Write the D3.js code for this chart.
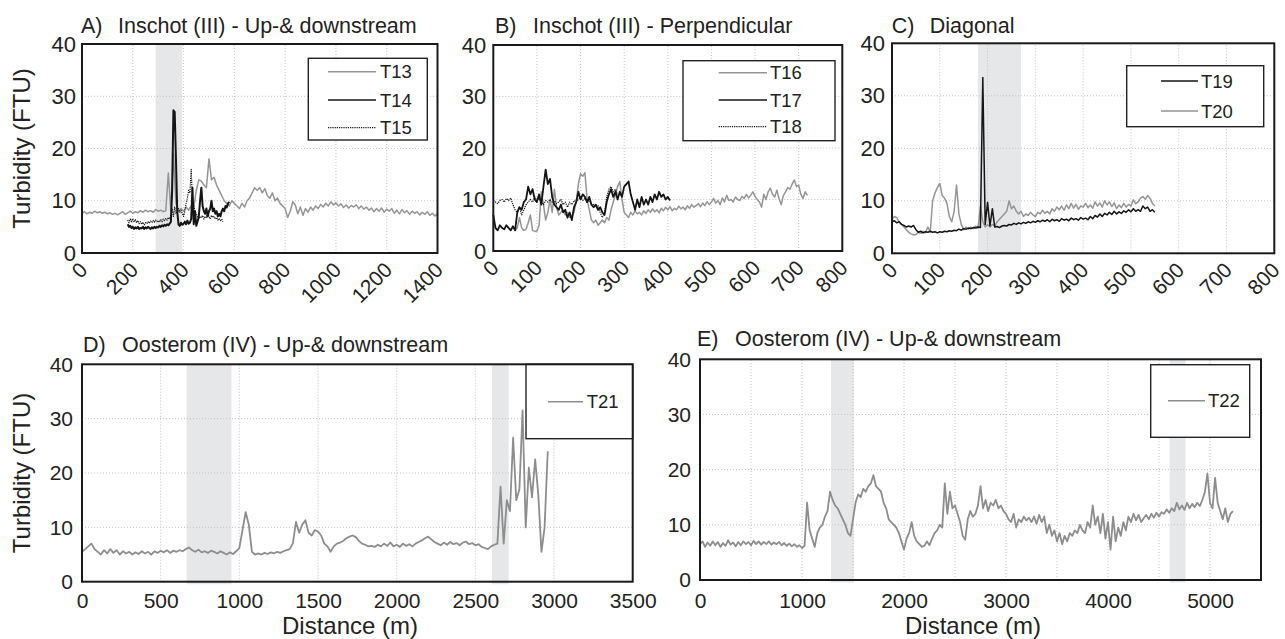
<!DOCTYPE html>
<html lang="en">
<head>
<meta charset="UTF-8" />
<title>Turbidity transects</title>
<script src="https://cdn.jsdelivr.net/npm/d3@7"></script>
<style>
  html, body { margin: 0; padding: 0; background: #fff; overflow: hidden; }
  svg { display: block; font-family: "Liberation Sans", Arial, Helvetica, sans-serif; }
</style>
</head>
<body>
<script>
// ---- data (distance in m, turbidity in FTU) ----
const yTicks = [0, 10, 20, 30, 40];

// A) Inschot (III) - Up-& downstream
const aTicks = [0, 200, 400, 600, 800, 1000, 1200, 1400];
const aShade = [[290, 395]];
const t13Start = 0, t13Step = 10;
const t13 = [
  7.6, 7.9, 7.5, 7.8, 7.6, 8.0, 7.7, 7.9, 7.6, 7.8, 7.5, 7.7, 7.4, 7.6, 7.3, 7.6, 7.9, 7.4, 7.7, 8.0,
  7.6, 7.9, 7.7, 8.1, 7.8, 8.2, 7.9, 8.1, 7.8, 8.3, 8.0, 8.2, 7.9, 8.1, 15.3, 8.0, 19.0, 9.5, 8.0, 8.5,
  8.0, 8.8, 8.2, 9.0, 8.5, 12.0, 14.0, 13.8, 13.0, 12.5, 18.0, 14.0, 14.5, 13.0, 12.0, 11.0, 10.0, 9.5, 9.0, 10.0,
  9.5, 9.0, 8.5, 9.5, 8.8, 10.0, 10.5, 11.5, 12.5, 12.0, 12.5, 11.5, 12.3, 11.0, 10.5, 11.5, 10.0, 10.5, 9.5, 9.0,
  8.5, 6.8, 8.0, 9.8, 9.2, 7.5, 8.8, 7.2, 8.5, 7.8, 8.8, 8.2, 9.0, 8.5, 9.3, 8.8, 9.5, 9.0, 9.8, 9.2,
  9.6, 9.0, 9.4, 8.7, 9.2, 8.6, 9.1, 8.8, 9.2, 8.5, 9.0, 8.4, 8.8, 8.2, 8.6, 7.9, 8.5, 8.0, 8.6, 7.8,
  8.4, 8.0, 8.5, 7.6, 8.2, 7.5, 8.3, 7.7, 8.1, 7.4, 8.0, 7.6, 7.9, 7.3, 7.8, 7.4, 7.9, 7.2, 7.6, 7.1, 7.5
];
const t14Start = 180, t14Step = 5;
const t14 = [
  5.5, 5.0, 5.2, 4.8, 5.0, 4.6, 4.9, 4.7, 5.0, 4.6, 4.8, 4.7, 5.0, 4.6, 4.9, 4.7, 5.0, 4.8, 4.6, 4.9,
  4.7, 5.0, 4.8, 5.0, 4.9, 5.2, 5.0, 5.3, 5.1, 5.4, 5.2, 5.5, 5.3, 5.6, 6.0, 12.0, 27.3, 27.0, 18.0, 8.0,
  5.5, 5.2, 5.8, 5.4, 5.6, 6.0, 5.5, 6.2, 5.6, 5.8, 6.5, 12.5, 5.5, 8.0, 5.2, 6.0, 7.0, 10.0, 12.5, 9.0,
  8.0, 7.5, 8.5, 7.0, 8.0, 8.5, 10.0, 8.0, 8.5, 7.5, 8.0, 7.0, 7.5, 7.0, 8.0, 8.5, 8.0, 9.0, 8.7, 9.5, 9.8
];
const t15Start = 180, t15Step = 5;
const t15 = [
  6.3, 5.8, 6.5, 6.0, 6.6, 5.9, 6.4, 5.8, 6.2, 5.6, 6.0, 5.5, 5.9, 5.4, 5.8, 5.6, 6.0, 5.7, 6.1, 5.8,
  6.2, 5.9, 6.3, 6.0, 6.2, 5.9, 6.4, 6.0, 6.5, 6.2, 6.6, 6.3, 6.8, 6.5, 7.0, 8.5, 7.0, 8.8, 7.5, 8.0,
  8.5, 7.8, 8.2, 7.5, 7.0, 8.0, 9.5, 10.5, 12.0, 11.5, 16.0, 10.0, 9.0, 8.0, 7.5, 7.0, 6.5, 7.0, 6.8, 7.2,
  6.5, 7.0, 6.8, 7.5, 7.0, 6.5, 7.2, 6.8, 7.0, 6.5, 6.8, 6.3, 6.6, 6.2, 6.5, 6.0
];

// B) Inschot (III) - Perpendicular
const bTicks = [0, 100, 200, 300, 400, 500, 600, 700, 800];
const t16Start = 50, t16Step = 5;
const t16 = [
  4.0, 4.5, 6.5, 4.5, 4.0, 4.2, 5.5, 7.0, 4.0, 3.8, 3.9, 5.0, 11.5, 9.0, 6.0, 7.5, 10.0, 7.5, 12.0, 8.5,
  7.0, 7.5, 8.0, 7.0, 7.5, 6.5, 6.8, 7.5, 9.5, 13.0, 15.0, 14.5, 15.2, 10.0, 8.0, 6.0, 5.5, 6.0, 5.0, 5.5,
  6.0, 5.5, 6.5, 6.0, 8.0, 9.5, 11.0, 12.5, 13.5, 10.0, 7.5, 7.0, 6.5, 7.5, 7.0, 7.8, 7.2, 7.5, 7.0, 7.8,
  7.3, 8.0, 7.5, 8.2, 7.6, 8.0, 7.4, 8.3, 7.8, 8.5, 8.0, 8.6, 7.8, 8.3, 8.0, 8.7, 8.2, 8.5, 8.0, 8.8,
  8.3, 9.0, 8.5, 8.8, 9.2, 8.6, 9.3, 8.8, 9.6, 9.0, 9.5, 10.2, 9.3, 9.8, 9.0, 10.3, 9.5, 10.8, 9.8, 10.0,
  9.5, 10.5, 10.0, 9.8, 10.6, 10.2, 11.0, 10.3, 10.8, 11.5, 10.6, 10.0, 9.5, 8.5, 11.0, 10.0, 11.5, 12.2, 11.0, 10.5,
  11.8, 10.2, 9.0, 10.8, 11.5, 12.3, 12.0, 13.0, 13.8, 12.5, 12.8, 11.0, 10.2, 11.5, 10.8
];
const t17Start = 0, t17Step = 5;
const t17 = [
  7.0, 4.5, 4.0, 5.0, 4.5, 4.2, 5.0, 4.5, 4.0, 4.8, 4.0, 7.5, 8.5, 8.0, 9.5, 10.0, 12.5, 11.0, 12.0, 10.0,
  9.5, 11.0, 9.0, 12.5, 15.8, 13.0, 14.0, 10.5, 9.0, 8.5, 8.0, 9.0, 7.5, 8.0, 6.5, 7.5, 6.0, 8.5, 9.5, 11.5,
  10.0, 11.0, 10.5, 9.5, 10.5, 9.0, 8.5, 9.0, 8.0, 8.5, 7.5, 7.0, 9.5, 11.0, 12.0, 10.5, 11.5, 10.0, 11.5, 10.5,
  12.5, 13.0, 13.5, 11.0, 9.5, 8.0, 10.0, 8.5, 10.5, 9.0, 10.0, 9.0, 10.5, 9.5, 11.0, 10.0, 11.5, 10.5, 11.0, 10.0,
  10.5, 9.8
];
const t18Start = 0, t18Step = 5;
const t18 = [
  9.8, 9.5, 9.2, 9.8, 10.0, 9.5, 10.2, 9.8, 10.3, 9.0, 8.0, 7.5, 8.5, 7.0, 8.0, 9.0, 9.5, 10.0, 9.5, 10.5,
  9.8, 10.2, 9.5, 9.0, 9.8, 9.5, 10.0, 9.5, 9.8, 9.2, 9.5, 10.0, 9.0, 9.5, 8.5, 9.5, 9.0, 9.8, 9.5, 10.0,
  10.5, 9.8, 10.2, 9.5, 9.8, 9.2, 9.0, 8.5, 8.8, 7.5, 6.5, 7.5, 10.5, 12.0, 12.5, 11.5, 12.0, 11.0
];

// C) Diagonal
const cTicks = [0, 100, 200, 300, 400, 500, 600, 700, 800];
const cShade = [[180, 270]];
const t19Start = 0, t19Step = 5;
const t19 = [
  6.0, 6.2, 5.8, 6.0, 5.5, 5.3, 5.0, 5.2, 5.0, 5.3, 4.5, 4.0, 4.2, 3.9, 4.1, 4.0, 4.2, 4.0, 4.1, 3.9,
  4.1, 4.0, 4.2, 4.1, 4.3, 4.2, 4.4, 4.3, 4.6, 4.4, 4.7, 4.6, 4.8, 4.7, 4.9, 4.8, 5.0, 4.9, 33.5, 5.5,
  9.7, 5.2, 8.5, 5.0, 5.1, 4.9, 5.2, 5.3, 5.2, 5.5, 5.4, 5.7, 5.5, 5.8, 5.6, 5.9, 5.7, 6.0, 5.8, 6.1,
  5.9, 6.2, 6.0, 6.3, 6.1, 6.4, 6.0, 6.5, 6.2, 6.4, 6.1, 6.6, 6.3, 6.5, 6.2, 6.7, 6.4, 6.6, 6.3, 6.8,
  6.5, 6.7, 6.4, 7.0, 6.6, 7.2, 6.9, 7.5, 7.0, 7.6, 7.3, 7.8, 7.4, 8.0, 7.5, 7.9, 7.6, 8.1, 7.8, 8.3,
  7.9, 8.5, 8.0, 8.3, 8.0, 9.0, 8.5, 8.8, 8.0, 8.3, 7.8
];
const t20Start = 0, t20Step = 5;
const t20 = [
  6.5, 7.0, 6.8, 6.0, 5.5, 5.0, 4.5, 4.0, 3.7, 3.5, 3.6, 4.0, 3.8, 4.2, 3.9, 5.0, 4.0, 10.0, 11.5, 12.5,
  13.3, 11.0, 10.5, 9.5, 7.0, 6.0, 8.0, 13.0, 7.5, 5.5, 4.5, 5.0, 4.6, 5.0, 4.7, 5.2, 4.8, 9.0, 6.0, 5.0,
  5.5, 5.0, 5.5, 5.2, 6.0, 6.5, 7.0, 7.5, 8.0, 10.0, 8.5, 9.0, 8.0, 7.5, 8.0, 7.0, 7.5, 7.2, 7.8, 7.3,
  7.0, 7.8, 7.5, 8.2, 7.6, 8.0, 7.5, 8.5, 8.0, 8.8, 8.3, 9.0, 8.2, 9.2, 8.5, 9.5, 8.6, 9.3, 8.4, 9.0,
  8.8, 9.5, 8.7, 9.2, 8.6, 9.8, 9.0, 9.6, 8.8, 10.0, 9.2, 9.8, 8.9, 9.6, 8.5, 9.2, 8.7, 9.5, 8.8, 9.3,
  9.0, 10.2, 9.4, 9.8, 10.5, 10.8, 10.3, 11.0, 10.5, 9.5, 9.0
];

// D) Oosterom (IV) - Up-& downstream
const dTicks = [0, 500, 1000, 1500, 2000, 2500, 3000, 3500];
const dShade = [[665, 950], [2605, 2712]];
const t21Start = 0, t21Step = 20;
const t21 = [
  5.5, 6.0, 6.5, 7.0, 6.0, 5.5, 5.0, 5.8, 5.2, 6.0, 5.3, 5.8, 5.0, 5.6, 5.2, 5.5, 5.0, 5.4, 5.1, 5.6,
  5.2, 5.5, 5.0, 5.6, 5.3, 5.7, 5.4, 5.8, 5.3, 5.7, 5.5, 5.8, 5.6, 6.0, 6.3, 5.8, 5.5, 5.9, 5.4, 5.6,
  5.3, 5.7, 5.5, 5.2, 5.6, 5.3, 5.0, 5.4, 5.1, 5.6, 6.2, 9.5, 12.8, 10.5, 5.5, 5.0, 5.2, 5.0, 5.3, 5.1,
  5.4, 5.2, 5.5, 5.3, 5.6, 5.8, 6.0, 7.0, 11.0, 9.0, 10.5, 11.3, 9.0, 8.5, 9.5, 9.2, 8.5, 7.0, 6.5, 5.5,
  6.5, 7.0, 7.2, 7.5, 8.0, 8.3, 8.5, 8.2, 7.5, 7.0, 6.8, 6.5, 6.6, 6.4, 6.8, 6.5, 7.0, 6.6, 7.2, 6.5,
  6.8, 6.4, 7.0, 6.6, 6.9, 6.5, 7.0, 7.3, 7.6, 8.0, 8.3, 7.8, 7.3, 7.0, 6.7, 7.2, 6.8, 7.3, 6.9, 7.1,
  6.7, 7.2, 7.4, 6.9, 7.1, 6.7, 6.9, 6.4, 6.2, 6.0, 6.5, 6.8, 7.0, 17.5, 7.0, 15.0, 13.0, 26.5, 15.0, 17.0,
  31.5, 10.0, 21.0, 15.5, 22.5, 16.0, 5.5, 10.0, 24.0
];

// E) Oosterom (IV) - Up-& downstream
const eTicks = [0, 1000, 2000, 3000, 4000, 5000];
const eGrid = [500, 1000, 1500, 2000, 2500, 3000, 3500, 4000, 4500, 5000];
const eShade = [[1285, 1508], [4605, 4760]];
const t22Start = 0, t22Step = 25;
const t22 = [
  6.5, 7.0, 6.0, 6.8, 6.2, 7.0, 6.3, 6.9, 6.0, 6.7, 6.2, 7.2, 6.4, 6.8, 6.1, 6.9, 6.3, 7.0, 6.5, 6.9,
  6.3, 7.1, 6.5, 7.0, 6.4, 6.9, 6.5, 7.0, 6.4, 6.8, 6.5, 6.9, 6.3, 6.7, 6.2, 6.6, 6.1, 6.5, 6.0, 6.3,
  5.8, 6.2, 14.0, 9.0, 7.5, 6.0, 8.5, 9.5, 10.0, 11.5, 12.5, 16.0, 14.5, 13.5, 13.0, 12.0, 11.0, 10.0, 8.5, 8.0,
  11.0, 14.0, 15.5, 15.0, 16.5, 16.0, 17.0, 17.5, 19.0, 17.0, 16.5, 16.0, 14.0, 13.0, 11.0, 10.5, 10.0, 9.5, 8.5, 7.0,
  5.5, 7.5, 8.5, 10.5, 8.0, 7.0, 6.5, 6.0, 6.2, 7.0, 6.3, 7.5, 8.5, 9.0, 10.0, 9.5, 17.5, 12.0, 16.0, 13.0,
  13.5, 12.0, 10.5, 8.0, 7.3, 11.0, 12.5, 11.5, 12.0, 13.5, 17.0, 13.0, 14.5, 12.5, 14.0, 13.5, 14.5, 13.0, 13.5, 12.5,
  12.0, 11.0, 10.5, 12.0, 9.5, 11.0, 10.5, 11.5, 10.8, 11.3, 10.5, 11.5, 10.2, 11.8, 10.5, 11.5, 8.5, 10.0, 8.0, 9.0,
  7.0, 8.5, 6.5, 8.0, 7.0, 8.5, 8.0, 9.0, 8.5, 10.0, 9.0, 8.5, 10.5, 9.5, 13.5, 10.0, 11.5, 8.5, 12.0, 7.5,
  10.5, 5.5, 11.5, 7.0, 9.5, 8.0, 10.5, 9.0, 11.5, 10.5, 12.0, 10.8, 11.8, 10.5, 11.2, 11.8, 11.0, 12.0, 11.3, 12.2,
  11.5, 12.3, 12.0, 12.8, 12.2, 13.0, 12.5, 14.0, 12.8, 13.5, 12.7, 14.0, 13.0, 13.8, 13.2, 14.0, 13.4, 14.5, 16.0, 19.3,
  14.0, 13.0, 18.5, 14.0, 12.5, 11.0, 13.0, 10.5, 12.0, 12.5
];

// ---- layout ----
const W = 1285, H = 639;
const grey = "#959595", darkGrey = "#8d8d8d", black = "#151515";

const panels = [
  {
    letter: "A)", title: "Inschot (III) - Up-& downstream", titleX: 81, titleGap: 37, titleY: 32.5,
    left: 82, top: 44, width: 355.5, height: 209, xMax: 1400, xTicks: aTicks, grid: aTicks,
    shade: aShade, rotate: true, fs: 22, yPad: 6,
    series: [
      { name: "T13", start: t13Start, step: t13Step, values: t13, color: grey, width: 1.5 },
      { name: "T14", start: t14Start, step: t14Step, values: t14, color: black, width: 2 },
      { name: "T15", start: t15Start, step: t15Step, values: t15, color: black, width: 1.2, dash: "1.2,1" }
    ],
    legend: { x: 308.3, y: 58.3, w: 119, h: 81.7, x1: 328, x2: 376, tx: 380, rows: [71.7, 100, 127.7] },
    yTitle: true
  },
  {
    letter: "B)", title: "Inschot (III) - Perpendicular", titleX: 495, titleGap: 38, titleY: 33,
    left: 493.3, top: 45, width: 349, height: 206, xMax: 800, xTicks: bTicks, grid: bTicks,
    shade: [], rotate: true, fs: 22, yPad: 7,
    series: [
      { name: "T16", start: t16Start, step: t16Step, values: t16, color: grey, width: 1.5 },
      { name: "T17", start: t17Start, step: t17Step, values: t17, color: black, width: 1.8 },
      { name: "T18", start: t18Start, step: t18Step, values: t18, color: black, width: 1.2, dash: "1.2,1" }
    ],
    legend: { x: 683, y: 60.7, w: 152, h: 80, x1: 718.7, x2: 767, tx: 770, rows: [72.7, 100, 126.7] }
  },
  {
    letter: "C)", title: "Diagonal", titleX: 891.7, titleGap: 38, titleY: 33,
    left: 892, top: 43.3, width: 382.3, height: 210, xMax: 800, xTicks: cTicks, grid: cTicks,
    shade: cShade, rotate: true, fs: 22, yPad: 7,
    series: [
      { name: "T20", start: t20Start, step: t20Step, values: t20, color: grey, width: 1.5 },
      { name: "T19", start: t19Start, step: t19Step, values: t19, color: black, width: 1.5 }
    ],
    legendOrder: ["T19", "T20"],
    legend: { x: 1126.7, y: 65.7, w: 137, h: 61, x1: 1161, x2: 1198, tx: 1201, rows: [81, 111] }
  },
  {
    letter: "D)", title: "Oosterom (IV) - Up-& downstream", titleX: 83, titleGap: 39, titleY: 351.5,
    left: 82, top: 364.3, width: 550.7, height: 217.4, xMax: 3500, xTicks: dTicks, grid: dTicks,
    shade: dShade, shadeExtra: 2.5, rotate: false, fs: 21, yPad: 9, xPad: 11,
    series: [
      { name: "T21", start: t21Start, step: t21Step, values: t21, color: darkGrey, width: 1.8 }
    ],
    legend: { x: 526, y: 364.3, w: 106.7, h: 74.4, x1: 548, x2: 583, tx: 586.7, rows: [401.7] },
    yTitle: true, xTitle: true, xTitleX: 350
  },
  {
    letter: "E)", title: "Oosterom (IV) - Up-& downstream", titleX: 697, titleGap: 38, titleY: 346,
    left: 700, top: 359.3, width: 561, height: 220.7, xMax: 5500, xTicks: eTicks, grid: eGrid,
    shade: eShade, shadeExtra: 2.5, rotate: false, fs: 21, yPad: 9, xPad: 13,
    series: [
      { name: "T22", start: t22Start, step: t22Step, values: t22, color: darkGrey, width: 1.8 }
    ],
    legend: { x: 1150.7, y: 364.7, w: 99, h: 72.6, x1: 1168, x2: 1205, tx: 1208, rows: [400.7] },
    xTitle: true, xTitleX: 973
  }
];

const svg = d3.select("body").append("svg")
  .attr("width", W)
  .attr("height", H);

function drawPanel(p) {
  const x = d3.scaleLinear().domain([0, p.xMax]).range([p.left, p.left + p.width]);
  const y = d3.scaleLinear().domain([0, 40]).range([p.top + p.height, p.top]);
  const g = svg.append("g");

  // grey bands
  g.selectAll("rect.shade").data(p.shade).join("rect")
    .attr("class", "shade")
    .attr("x", d => x(d[0]))
    .attr("y", y(40))
    .attr("width", d => x(d[1]) - x(d[0]))
    .attr("height", y(0) - y(40) + (p.shadeExtra || 0))
    .attr("fill", "#e6e7e9");

  // dotted grid
  g.selectAll("line.vgrid").data(p.grid.filter(d => d > 0 && d < p.xMax)).join("line")
    .attr("class", "vgrid")
    .attr("x1", d => x(d)).attr("x2", d => x(d))
    .attr("y1", y(0)).attr("y2", y(40))
    .attr("stroke", "#c4c4c4").attr("stroke-width", 1).attr("stroke-dasharray", "1,2");
  g.selectAll("line.hgrid").data(yTicks.filter(d => d > 0 && d < 40)).join("line")
    .attr("class", "hgrid")
    .attr("x1", x(0)).attr("x2", x(p.xMax))
    .attr("y1", d => y(d)).attr("y2", d => y(d))
    .attr("stroke", "#c4c4c4").attr("stroke-width", 1).attr("stroke-dasharray", "1,2");

  // series
  const line = d3.line().x(d => x(d[0])).y(d => y(d[1]));
  p.series.forEach(s => {
    g.append("path")
      .datum(s.values.map((v, i) => [s.start + i * s.step, v]))
      .attr("d", line)
      .attr("fill", "none")
      .attr("stroke", s.color)
      .attr("stroke-width", s.width)
      .attr("stroke-linejoin", "round")
      .attr("stroke-dasharray", s.dash || null);
  });

  // legend
  const L = p.legend;
  g.append("rect")
    .attr("x", L.x).attr("y", L.y).attr("width", L.w).attr("height", L.h)
    .attr("fill", "#fff").attr("stroke", "#222").attr("stroke-width", 1.4);
  const order = p.legendOrder
    ? p.legendOrder.map(n => p.series.find(s => s.name === n))
    : p.series;
  order.forEach((s, i) => {
    g.append("line")
      .attr("x1", L.x1).attr("x2", L.x2).attr("y1", L.rows[i]).attr("y2", L.rows[i])
      .attr("stroke", s.color).attr("stroke-width", Math.min(s.width, 1.6))
      .attr("stroke-dasharray", s.dash || null);
    g.append("text")
      .attr("x", L.tx).attr("y", L.rows[i]).attr("dy", "0.36em")
      .attr("font-size", 18.5).attr("fill", "#222")
      .text(s.name);
  });

  // frame
  g.append("rect")
    .attr("x", x(0)).attr("y", y(40))
    .attr("width", x(p.xMax) - x(0)).attr("height", y(0) - y(40))
    .attr("fill", "none").attr("stroke", "#1a1a1a").attr("stroke-width", 2);

  // y axis
  const yAxis = g.append("g")
    .attr("transform", `translate(${x(0)},0)`)
    .call(d3.axisLeft(y).tickValues(yTicks).tickSize(0).tickPadding(p.yPad));
  yAxis.select(".domain").remove();
  yAxis.selectAll("text").attr("font-size", p.fs).attr("fill", "#222").attr("font-family", null);

  // x axis
  const xAxis = g.append("g")
    .attr("transform", `translate(0,${y(0)})`)
    .call(d3.axisBottom(x).tickValues(p.xTicks).tickSize(0).tickPadding(p.xPad || 0).tickFormat(d3.format("d")));
  xAxis.select(".domain").remove();
  xAxis.selectAll("text").attr("font-size", p.fs).attr("fill", "#222").attr("font-family", null);
  if (p.rotate) {
    xAxis.selectAll("text")
      .attr("font-size", 21)
      .attr("y", 0).attr("dy", "0.35em")
      .attr("text-anchor", "end")
      .attr("transform", "translate(1,13) rotate(-45)");
  }

  // title
  const t = g.append("text").attr("y", p.titleY).attr("font-size", 21.5).attr("fill", "#222");
  t.append("tspan").attr("x", p.titleX).text(p.letter);
  t.append("tspan").attr("x", p.titleX + p.titleGap).text(p.title);

  if (p.yTitle) {
    g.append("text")
      .attr("transform", `translate(29.5,${(y(0) + y(40)) / 2}) rotate(-90)`)
      .attr("text-anchor", "middle")
      .attr("font-size", 24).attr("fill", "#222")
      .text("Turbidity (FTU)");
  }
  if (p.xTitle) {
    g.append("text")
      .attr("x", p.xTitleX).attr("y", 634)
      .attr("text-anchor", "middle")
      .attr("font-size", 24).attr("fill", "#222")
      .text("Distance (m)");
  }
}

panels.forEach(drawPanel);
</script>
</body>
</html>
